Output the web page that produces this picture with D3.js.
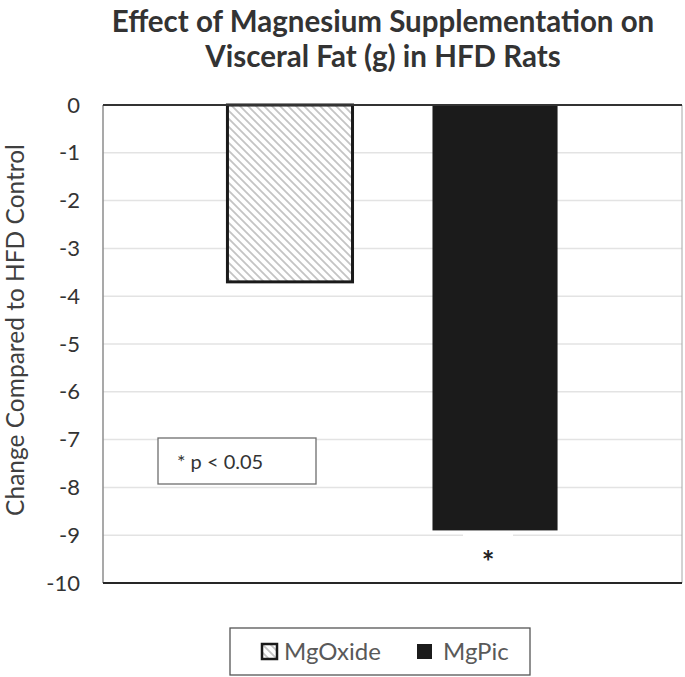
<!DOCTYPE html>
<html>
<head>
<meta charset="utf-8">
<script src="https://cdn.jsdelivr.net/npm/d3@7"></script>
<style>
  html, body { margin: 0; padding: 0; background: #fff; }
  svg { display: block; font-family: Lato, "Open Sans", sans-serif; }
</style>
</head>
<body>
<svg id="chart" width="685" height="677"></svg>
<script>
// ---- data ----
const titleLines = ["Effect of Magnesium Supplementation on", "Visceral Fat (g) in HFD Rats"];
const yAxisLabel = "Change Compared to HFD Control";
const categories = ["Visceral Fat"];
const seriesNames = ["MgOxide", "MgPic"];
const seriesValues = [-3.7, -8.9];
const significance = ["", "*"];
const yTicks = [0, -1, -2, -3, -4, -5, -6, -7, -8, -9, -10];
const noteText = "* p < 0.05";

// ---- layout ----
const svg = d3.select("#chart");
const margin = { left: 103, top: 105, right: 3, bottom: 94 };
const W = 685 - margin.left - margin.right;
const H = 677 - margin.top - margin.bottom;

const defs = svg.append("defs");
const pat = defs.append("pattern")
  .attr("id", "hatch").attr("patternUnits", "userSpaceOnUse")
  .attr("width", 8).attr("height", 8);
pat.append("rect").attr("width", 8).attr("height", 8).attr("fill", "#fff");
pat.append("path").attr("d", "M-2,-2 L10,10 M-2,6 L2,10 M6,-2 L10,2")
  .attr("stroke", "#c4c4c4").attr("stroke-width", 1.8);

const g = svg.append("g").attr("transform", `translate(${margin.left},${margin.top})`);

const y = d3.scaleLinear().domain([-10, 0]).range([H, 0]);
const x0 = d3.scaleBand().domain(categories).range([0, W]).paddingInner(0).paddingOuter(0.377);
const x1 = d3.scaleBand().domain(seriesNames).range([0, x0.bandwidth()]).paddingInner(0.39).paddingOuter(0);

// gridlines
g.append("g").selectAll("line").data(yTicks.filter(t => t !== 0 && t !== -10)).join("line")
  .attr("x1", 0).attr("x2", W)
  .attr("y1", d => y(d)).attr("y2", d => y(d))
  .attr("stroke", "#e3e3e3").attr("stroke-width", 1.5);

// frame
g.append("line").attr("x1", 0).attr("x2", 0).attr("y1", 0).attr("y2", H)
  .attr("stroke", "#8c8c8c").attr("stroke-width", 1.5);
g.append("line").attr("x1", W).attr("x2", W).attr("y1", 0).attr("y2", H)
  .attr("stroke", "#a6a6a6").attr("stroke-width", 1);

// y axis tick labels
const yAxis = d3.axisLeft(y).tickValues(yTicks).tickSize(0).tickPadding(23).tickFormat(d => String(d));
const ya = g.append("g").call(yAxis);
ya.select(".domain").remove();
ya.selectAll("text").attr("font-size", 22).attr("fill", "#333")
  .attr("font-family", "Lato, sans-serif");

// significance label background + text
const bars = seriesNames.map((s, i) => ({ name: s, value: seriesValues[i], sig: significance[i] }));
const cat = categories[0];

g.append("g").selectAll("rect.sigbg").data(bars.filter(d => d.sig)).join("rect")
  .attr("x", d => x0(cat) + x1(d.name) + x1.bandwidth() / 2 - 32)
  .attr("y", d => y(d.value) + 3)
  .attr("width", 50).attr("height", 42).attr("fill", "#fff");

// bars
g.append("g").selectAll("rect.bar").data(bars).join("rect")
  .attr("x", d => x0(cat) + x1(d.name))
  .attr("y", d => y(Math.max(0, d.value)))
  .attr("width", x1.bandwidth())
  .attr("height", d => Math.abs(y(d.value) - y(0)))
  .attr("fill", (d, i) => i === 0 ? "url(#hatch)" : "#1b1b1b")
  .attr("stroke", (d, i) => i === 0 ? "#1a1a1a" : "none")
  .attr("stroke-width", 3);

g.append("g").selectAll("text.sig").data(bars.filter(d => d.sig)).join("text")
  .attr("x", d => x0(cat) + x1(d.name) + x1.bandwidth() / 2 - 7)
  .attr("y", d => y(d.value) + 43)
  .attr("text-anchor", "middle").attr("font-size", 30).attr("font-weight", "bold")
  .attr("fill", "#222").text(d => d.sig);

// zero line & bottom line
g.append("line").attr("x1", 0).attr("x2", W).attr("y1", y(0)).attr("y2", y(0))
  .attr("stroke", "#333").attr("stroke-width", 1.8);
g.append("line").attr("x1", 0).attr("x2", W).attr("y1", y(-10)).attr("y2", y(-10))
  .attr("stroke", "#262626").attr("stroke-width", 1.8);

// note box
const note = g.append("g").attr("transform", `translate(${158 - margin.left},${438 - margin.top})`);
note.append("rect").attr("width", 158).attr("height", 46)
  .attr("fill", "#fff").attr("stroke", "#6e6e6e").attr("stroke-width", 1.3);
note.append("text").attr("x", 19).attr("y", 31).attr("font-size", 20).attr("fill", "#333").text(noteText);

// title
const title = svg.append("g");
titleLines.forEach((t, i) => {
  title.append("text").attr("x", 383).attr("y", 32 + i * 35)
    .attr("text-anchor", "middle").attr("font-size", 29.5).attr("font-weight", "bold")
    .attr("fill", "#333").text(t);
});

// y axis label
svg.append("text")
  .attr("transform", `translate(24,330) rotate(-90)`)
  .attr("text-anchor", "middle").attr("font-size", 24.5).attr("fill", "#404040")
  .text(yAxisLabel);

// legend
const leg = svg.append("g").attr("transform", "translate(230,628)");
leg.append("rect").attr("width", 300).attr("height", 47)
  .attr("fill", "#fff").attr("stroke", "#555").attr("stroke-width", 1.3);
const legX = [32, 187];
const items = leg.selectAll("g.item").data(bars).join("g")
  .attr("transform", (d, i) => `translate(${legX[i]},16)`);
items.append("rect").attr("width", 15).attr("height", 15)
  .attr("fill", (d, i) => i === 0 ? "url(#hatch)" : "#1b1b1b")
  .attr("stroke", (d, i) => i === 0 ? "#1a1a1a" : "none")
  .attr("stroke-width", 2.5);
items.append("text").attr("x", (d, i) => i === 0 ? 22 : 26).attr("y", 16)
  .attr("font-size", 24).attr("fill", "#595959").text(d => d.name);
</script>
</body>
</html>
